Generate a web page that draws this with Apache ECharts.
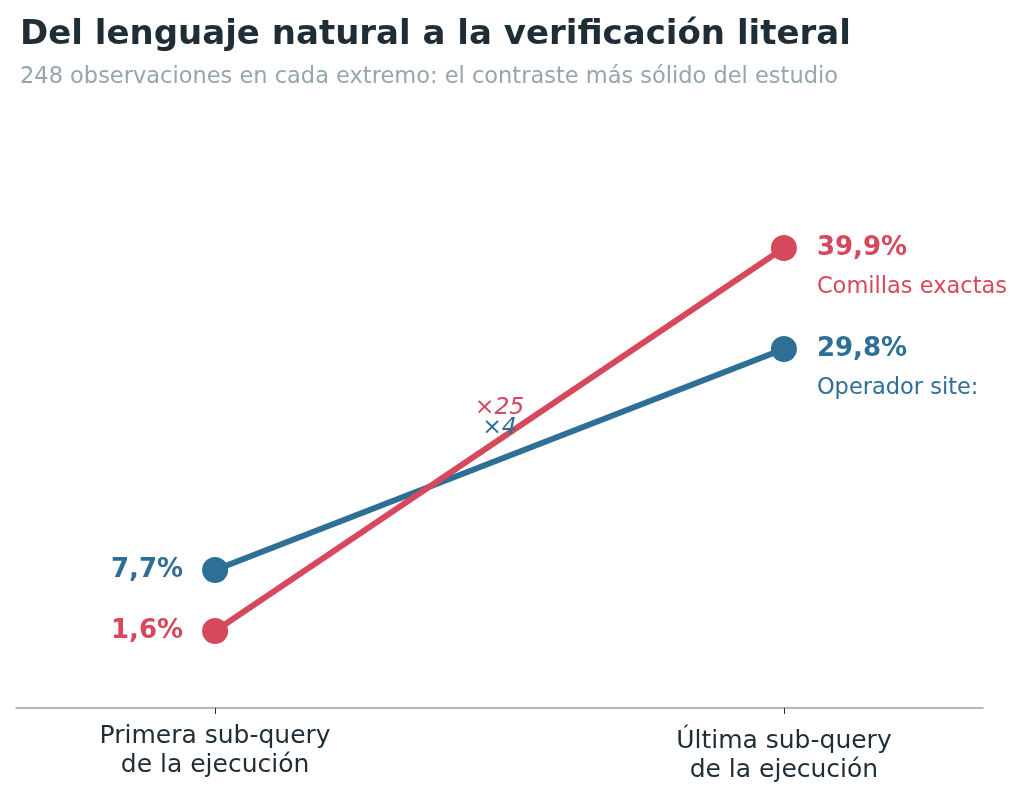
<!DOCTYPE html>
<html>
<head>
<meta charset="utf-8">
<script src="https://cdn.jsdelivr.net/npm/echarts@6/dist/echarts.min.js"></script>
<style>
html,body{margin:0;padding:0;background:#fff;}
#chart{width:1024px;height:798px;}
</style>
</head>
<body>
<div id="chart"></div>
<script>
const categories = ['Primera sub-query\nde la ejecución', 'Última sub-query\nde la ejecución'];
const seriesNames = ['Operador site:', 'Comillas exactas'];
const blueValues = [7.7, 29.8];
const redValues = [1.6, 39.9];
const ratioLabels = ['×4', '×25'];
const ratioValues = [21.9, 23.9];

const BLUE = '#2e6f96';
const RED = '#d6485b';
const DARK = '#1f2d36';
const GREY = '#94a6ae';
const FONT = "'DejaVu Sans', sans-serif";

function fmt(v){ return v.toFixed(1).replace('.', ',') + '%'; }

function slopeSeries(name, values, color, z){
  return {
    type: 'line',
    name: name,
    data: values.map((v, i) => ({
      value: [i, v],
      label: { position: i === 0 ? 'left' : 'right', distance: i === 0 ? 19 : 20 }
    })),
    symbol: 'circle',
    symbolSize: 26,
    lineStyle: { color: color, width: 6 },
    itemStyle: { color: color },
    z: z,
    label: {
      show: true,
      fontFamily: FONT,
      fontSize: 26,
      fontWeight: 'bold',
      color: color,
      formatter: function(p){ return fmt(p.value[1]); }
    }
  };
}

function nameSeries(name, values, color){
  return {
    type: 'scatter',
    data: [[values.length - 1, values[values.length - 1]]],
    symbolSize: 0,
    silent: true,
    itemStyle: { opacity: 1, color: color },
    z: 5,
    label: {
      show: true,
      position: 'right',
      distance: 33,
      offset: [0, 39],
      formatter: name,
      fontFamily: FONT,
      fontSize: 22.5,
      color: color
    }
  };
}

const ratioSeries = {
  type: 'scatter',
  data: ratioValues.map((v, i) => ({
    value: [0.5, v],
    label: {
      show: true,
      position: 'inside',
      formatter: ratioLabels[i],
      color: i === 0 ? BLUE : RED,
      fontSize: 23.5,
      fontStyle: 'italic',
      fontFamily: FONT
    }
  })),
  symbolSize: 0,
  itemStyle: { opacity: 1 },
  silent: true,
  z: 4
};

const chart = echarts.init(document.getElementById('chart'), null, { renderer: 'canvas' });
chart.setOption({
  backgroundColor: '#ffffff',
  animation: false,
  title: {
    text: 'Del lenguaje natural a la verificación literal',
    subtext: '248 observaciones en cada extremo: el contraste más sólido del estudio',
    left: 15,
    top: 11,
    itemGap: 10,
    textStyle: { fontFamily: FONT, fontSize: 34, fontWeight: 'bold', color: DARK, lineHeight: 38 },
    subtextStyle: { fontFamily: FONT, fontSize: 22.5, color: GREY, lineHeight: 26 }
  },
  grid: { left: 16, right: 41, top: 108, bottom: 90, containLabel: false },
  xAxis: {
    type: 'value',
    min: -0.35,
    max: 1.35,
    splitLine: { show: false },
    axisLine: { show: true, onZero: false, lineStyle: { color: GREY, width: 1.5 } },
    axisTick: { show: true, customValues: [0, 1], length: 6, lineStyle: { color: DARK, width: 1 } },
    axisLabel: {
      customValues: [0, 1],
      formatter: function(v){
        const lines = categories[Math.round(v)].split('\n');
        if (Math.round(v) === 0) return '{a|' + lines[0] + '}\n{a|' + lines[1] + '}';
        return '{b|' + lines[0] + '}\n{c|' + lines[1] + '}';
      },
      fontFamily: FONT, fontSize: 25, color: DARK, margin: 14,
      rich: {
        a: { fontFamily: FONT, fontSize: 25, color: DARK, lineHeight: 29 },
        b: { fontFamily: FONT, fontSize: 25, color: DARK, lineHeight: 39 },
        c: { fontFamily: FONT, fontSize: 25, color: DARK, lineHeight: 18 }
      }
    }
  },
  yAxis: {
    type: 'value',
    min: -6.1,
    max: 53.9,
    show: false,
    splitLine: { show: false }
  },
  series: [
    slopeSeries(seriesNames[0], blueValues, BLUE, 2),
    slopeSeries(seriesNames[1], redValues, RED, 3),
    nameSeries(seriesNames[0], blueValues, BLUE),
    nameSeries(seriesNames[1], redValues, RED),
    ratioSeries
  ]
});
</script>
</body>
</html>
